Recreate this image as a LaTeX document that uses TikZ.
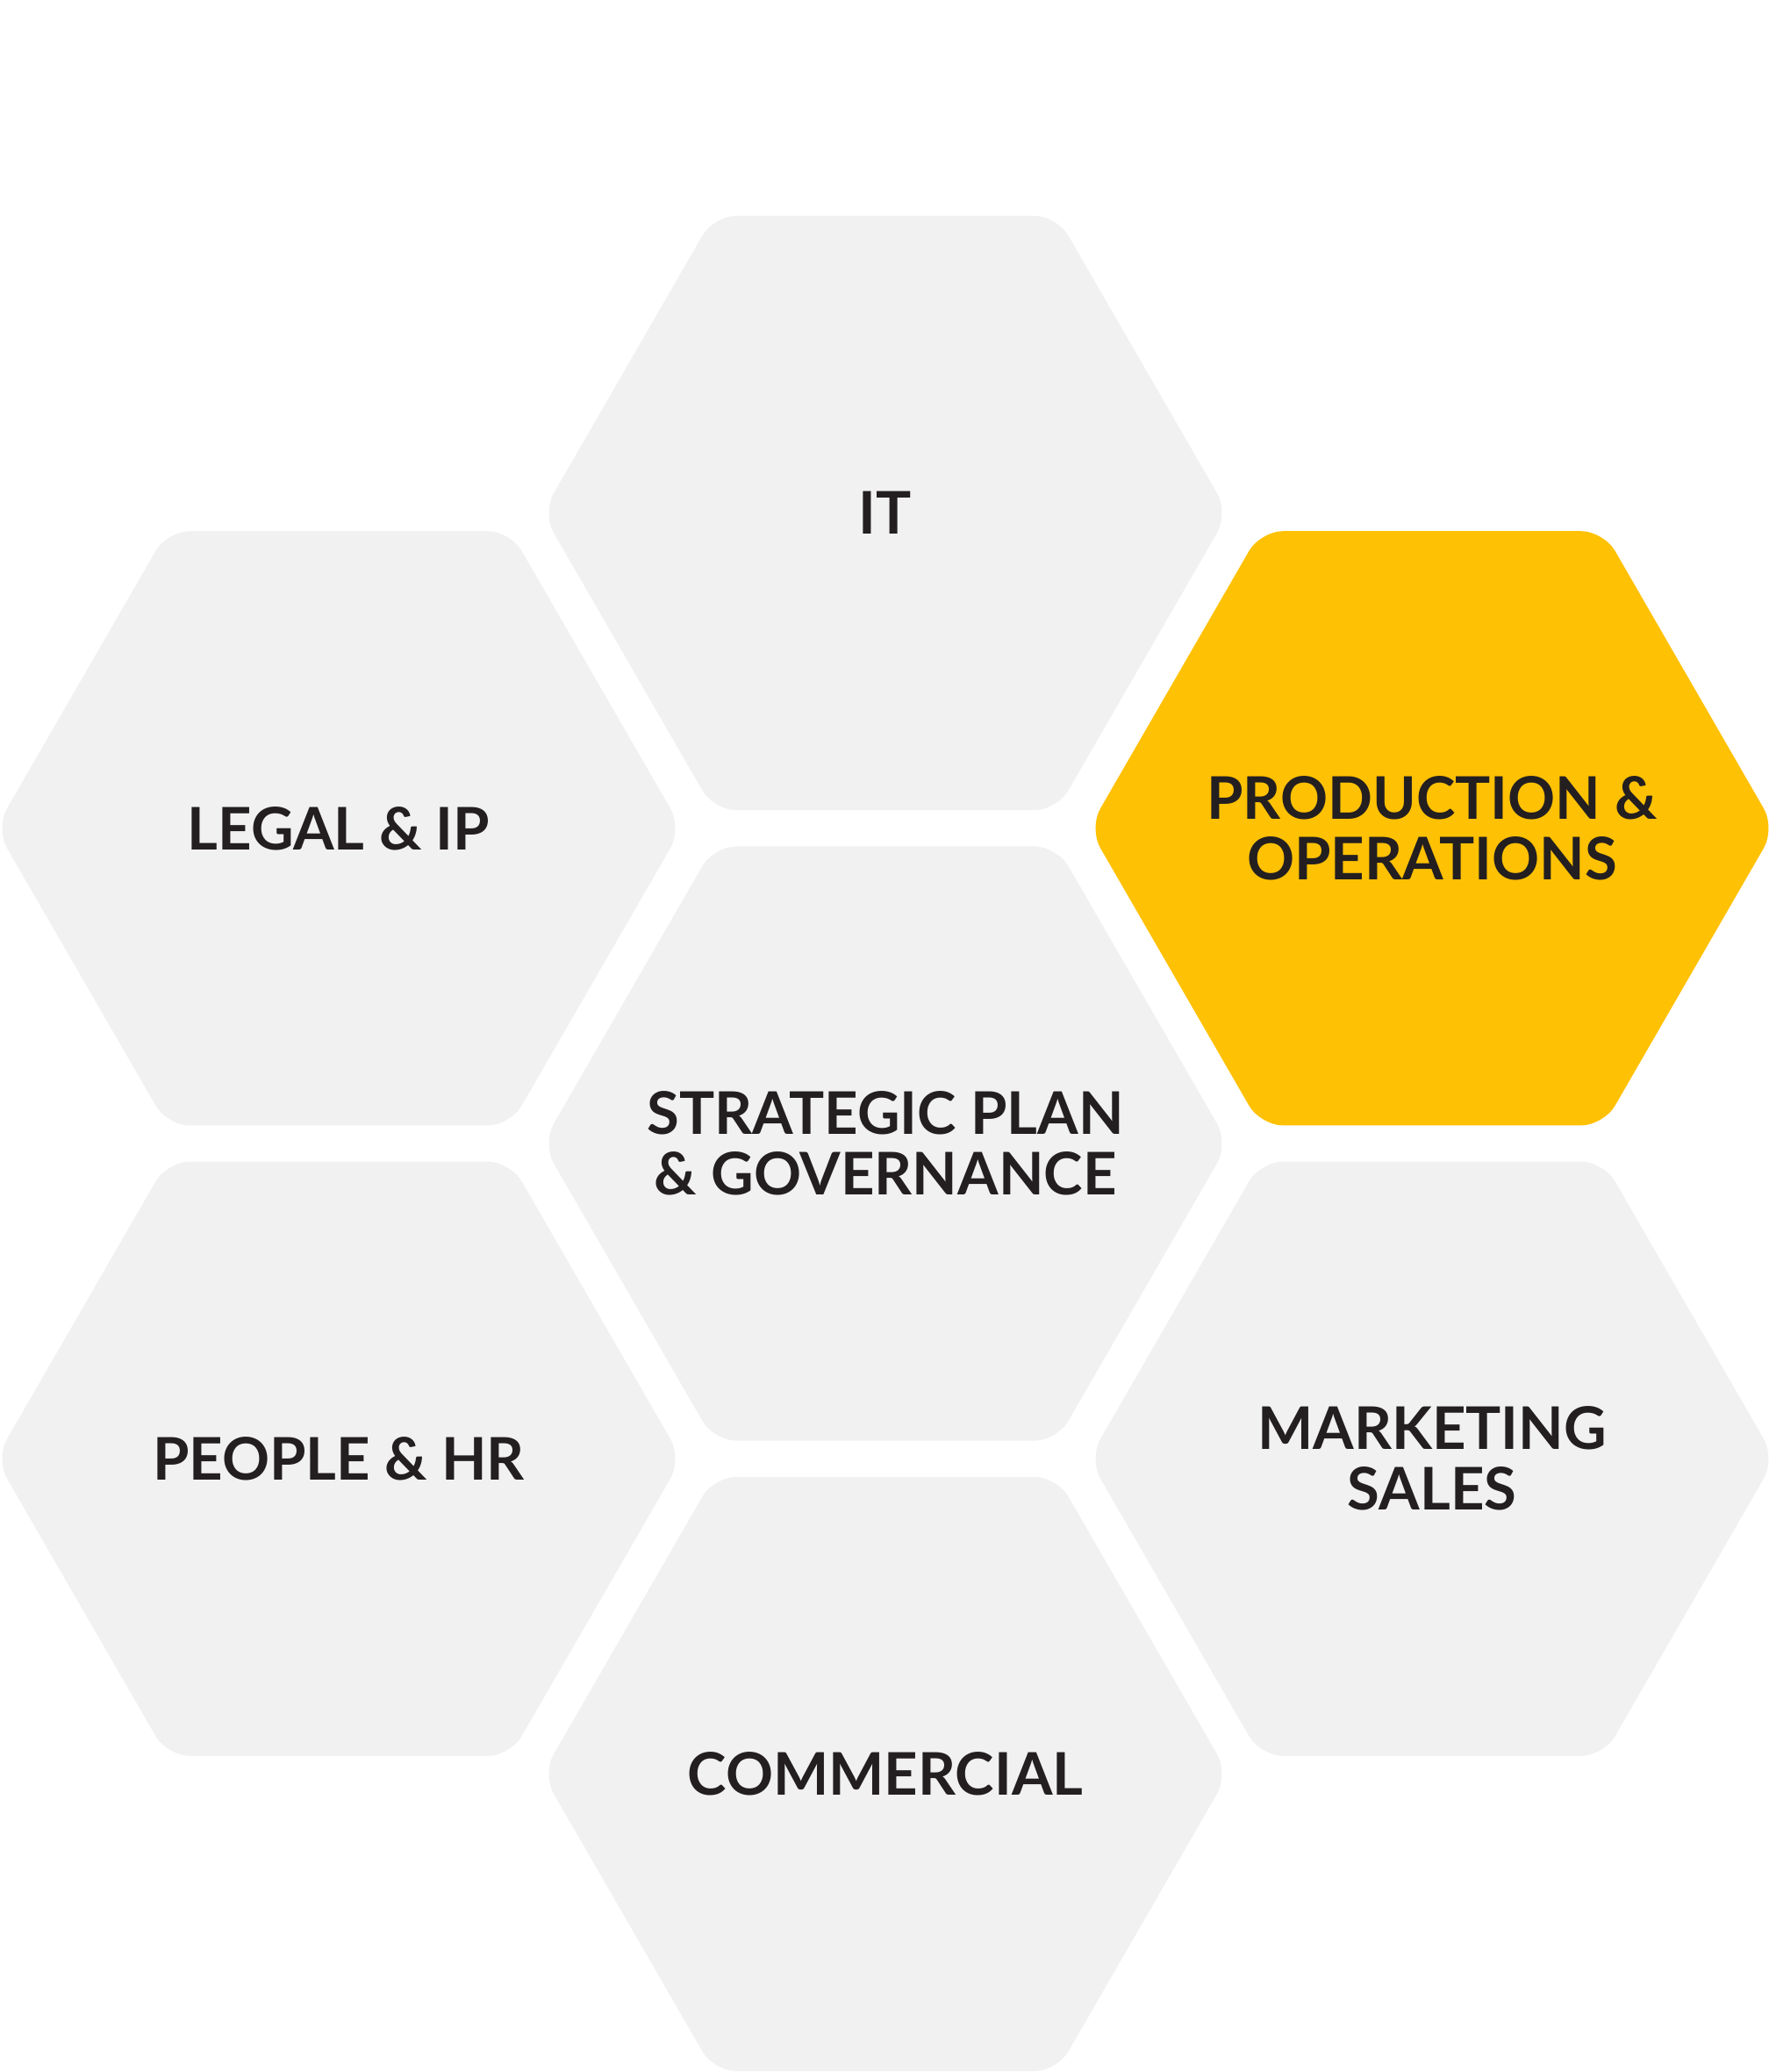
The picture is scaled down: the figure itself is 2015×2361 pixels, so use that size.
\documentclass[tikz,border=0pt]{standalone}
\usepackage{fontspec}
\setmainfont{Lato}
\usetikzlibrary{shapes.geometric}
\definecolor{hexgray}{HTML}{F1F1F1}
\definecolor{hexyellow}{HTML}{FFC103}
\definecolor{txtdark}{HTML}{231F20}
\begin{document}
\begin{tikzpicture}[x=0.5pt,y=-0.5pt,
  hex/.style={regular polygon, regular polygon sides=6, minimum size=391pt,
    inner sep=0pt, outer sep=0pt, fill=hexgray, rounded corners=13pt},
  hilite/.style={fill=hexyellow},
  lbl/.style={inner sep=0pt, text=txtdark, font=\fontsize{33.5}{34.5}\selectfont\bfseries, align=center}]
\fill[white] (0,0) rectangle (2015,2361);
\useasboundingbox (0,0) rectangle (2015,2361);
\node[hex] (it) at (1009,584.6) {};
\node[hex] (legal) at (386,943.8) {};
\node[hex,hilite] (prod) at (1632,943.8) {};
\node[hex] (strat) at (1009,1303) {};
\node[hex] (people) at (386,1662.2) {};
\node[hex] (mkt) at (1632,1662.2) {};
\node[hex] (comm) at (1009,2021.4) {};
\node[lbl] (itT) at (it.center) {IT};
\node[lbl] (legalT) at (legal.center) {LEGAL \& IP};
\node[lbl] (prodT) at (prod.center) {PRODUCTION \&\\OPERATIONS};
\node[lbl] (stratT) at (strat.center) {STRATEGIC PLAN\\\& GOVERNANCE};
\node[lbl] (peopleT) at (people.center) {PEOPLE \& HR};
\node[lbl] (mktT) at (mkt.center) {MARKETING\\SALES};
\node[lbl] (commT) at (comm.center) {COMMERCIAL};
\end{tikzpicture}
\end{document}
